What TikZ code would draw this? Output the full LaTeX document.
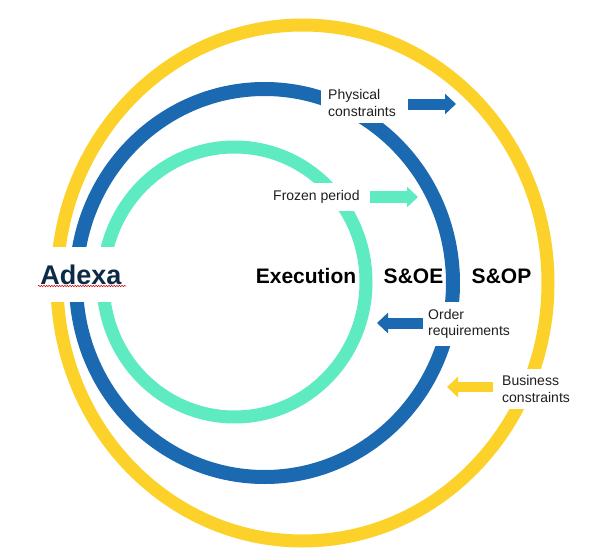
\documentclass[tikz,border=0pt]{standalone}
\usepackage{fontspec}
\setmainfont{Liberation Sans}
\usetikzlibrary{arrows.meta,decorations.pathmorphing}
\definecolor{cyel}{HTML}{FCD22A}
\definecolor{cblu}{HTML}{1B69B0}
\definecolor{cgrn}{HTML}{5EEBC2}
\definecolor{cnavy}{HTML}{0C2B47}
\begin{document}
\begin{tikzpicture}[x=1pt,y=-1pt,
  ring/.style={line width=13pt},
  lbl/.style={fill=white, font=\fontsize{14}{16.5}\selectfont, text=black!88, align=left, inner xsep=7pt, inner ysep=7pt, anchor=west},
  big/.style={font=\fontsize{21}{24}\selectfont\bfseries, text=black},
  blk/.style={line width=11pt, -{Triangle[length=11pt,width=20pt]}}]
\useasboundingbox (0,0) rectangle (598,554);
% rings
\draw[ring,cyel] (302.5,283) ellipse [x radius=245.5pt, y radius=258pt];
\draw[ring,cblu,line width=14pt] (264.5,283) ellipse [x radius=188.5pt, y radius=194pt];
\draw[ring,cgrn] (234.5,282) ellipse [x radius=131.5pt, y radius=135pt];
% labels cutting the rings
\node[lbl] (phys) at (321,103) {Physical\\constraints};
\node[lbl] (froz) at (266,197) {Frozen period};
\node[lbl] (ord) at (421,324) {Order\\requirements};
\node[lbl] (bus) at (495,389) {Business\\constraints};
\node[fill=white, minimum height=55pt, inner xsep=4pt, font=\fontsize{27}{30}\selectfont\bfseries, text=cnavy] (adx) at (81,274.5) {Adexa};
\coordinate (wl) at (38,286);
\coordinate (wr) at (126,286);
\draw[red!80!black, line width=0.5pt, decorate, decoration={snake, amplitude=0.7pt, segment length=2.6pt}] (wl) -- (wr);
% level names
\node[big] (exe) at (306,276) {Execution};
\node[big] (soe) at (413.5,276) {S\&OE};
\node[big] (sop) at (501.5,276) {S\&OP};
% block arrows
\coordinate (pa1) at (408,104); \coordinate (pa2) at (456,104);
\coordinate (fa1) at (370,197); \coordinate (fa2) at (418,197);
\coordinate (oa1) at (423,323); \coordinate (oa2) at (377,323);
\coordinate (ba1) at (493,387); \coordinate (ba2) at (447,387);
\draw[blk,cblu] (pa1) -- (pa2);
\draw[blk,cgrn,line width=12pt] (fa1) -- (fa2);
\draw[blk,cblu] (oa1) -- (oa2);
\draw[blk,cyel,line width=10pt] (ba1) -- (ba2);
\end{tikzpicture}
\end{document}
